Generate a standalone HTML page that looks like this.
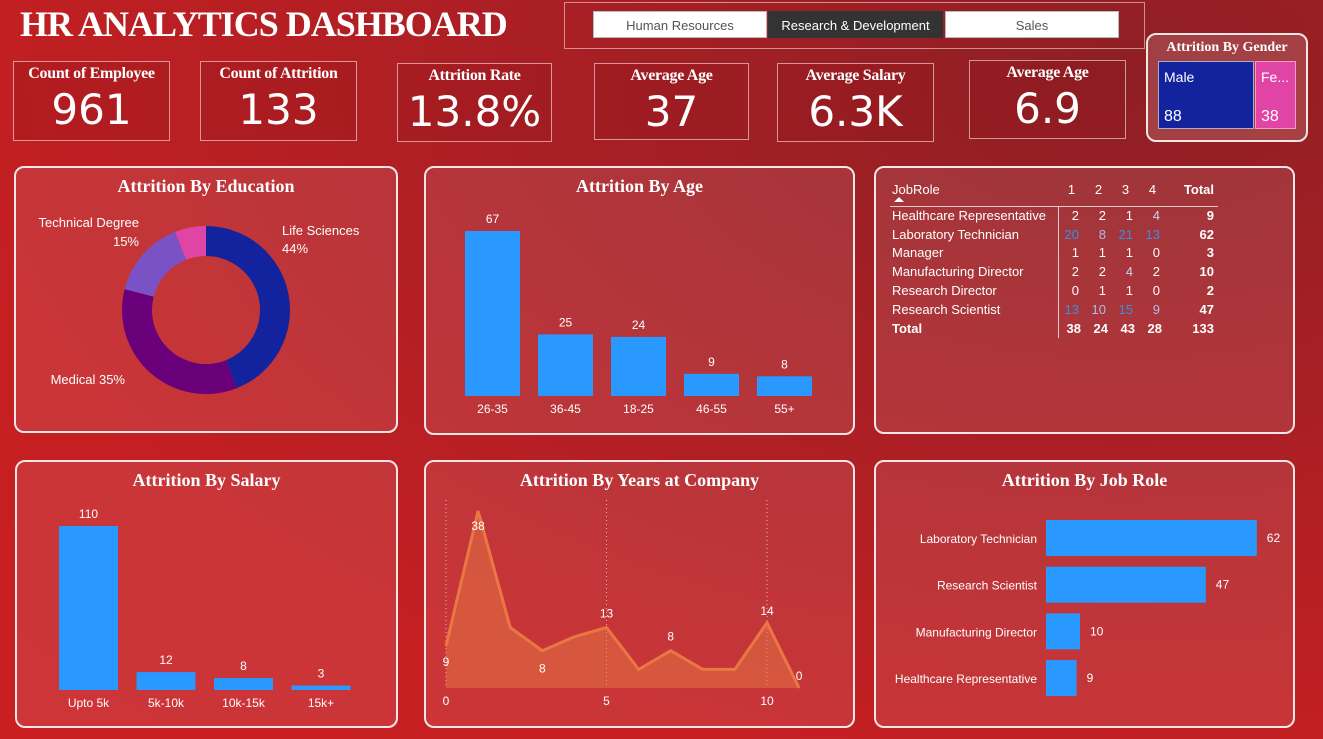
<!DOCTYPE html>
<html><head><meta charset="utf-8">
<style>
*{box-sizing:border-box;margin:0;padding:0}
body{width:1323px;height:739px;overflow:hidden;position:relative;font-family:"Liberation Sans",sans-serif;color:#fff;
background:radial-gradient(ellipse at 85% 10%,#8e1f24 0%,#a81f24 35%,#c51f22 75%,#c91f22 100%);}
.abs{position:absolute}
.kpi{position:absolute;border:1px solid rgba(255,255,255,0.55);text-align:center;background:rgba(140,20,25,0.25)}
.kpi .t{font-family:"Liberation Serif",serif;font-weight:bold;font-size:16px;margin-top:3px;letter-spacing:-0.3px}
.kpi .v{font-family:"DejaVu Sans","Liberation Sans",sans-serif;font-size:42px;line-height:48px;margin-top:3px}
.panel{position:absolute;border:2px solid #f4e6e6;border-radius:10px;background:rgba(255,255,255,0.1)}
.ptitle{position:absolute;left:0;right:0;top:8px;text-align:center;font-family:"Liberation Serif",serif;font-weight:bold;font-size:18px}
.btn{position:absolute;top:11px;height:27px;font-size:13px;text-align:center;line-height:27px;background:#fff;color:#555;border:1px solid #bbb}
svg text{font-family:"Liberation Sans",sans-serif}
table{border-collapse:collapse;font-size:13px}
</style></head><body>
<div class="abs" style="left:20px;top:3px;font-family:'Liberation Serif',serif;font-weight:bold;font-size:36px;letter-spacing:-1px">HR ANALYTICS DASHBOARD</div>

<div class="abs" style="left:564px;top:2px;width:581px;height:47px;border:1px solid rgba(255,255,255,0.5)"></div>
<div class="btn" style="left:593px;width:174px">Human Resources</div>
<div class="btn" style="left:768px;width:175px;background:#333;color:#fff;border-color:#333">Research &amp; Development</div>
<div class="btn" style="left:945px;width:174px">Sales</div>

<div class="kpi" style="left:13px;top:61px;width:157px;height:80px"><div class="t">Count of Employee</div><div class="v">961</div></div>
<div class="kpi" style="left:200px;top:61px;width:157px;height:80px"><div class="t">Count of Attrition</div><div class="v">133</div></div>
<div class="kpi" style="left:397px;top:63px;width:155px;height:79px"><div class="t">Attrition Rate</div><div class="v">13.8%</div></div>
<div class="kpi" style="left:594px;top:63px;width:155px;height:77px"><div class="t">Average Age</div><div class="v">37</div></div>
<div class="kpi" style="left:777px;top:63px;width:157px;height:79px"><div class="t">Average Salary</div><div class="v">6.3K</div></div>
<div class="kpi" style="left:969px;top:60px;width:157px;height:79px"><div class="t">Average Age</div><div class="v">6.9</div></div>

<div class="panel" style="left:1146px;top:33px;width:162px;height:109px;background:rgba(255,255,255,0.15)">
 <div style="position:absolute;left:0;right:0;top:5px;text-align:center;font-family:'Liberation Serif',serif;font-weight:bold;font-size:14px">Attrition By Gender</div>
 <div style="position:absolute;left:10px;top:26px;width:96px;height:68px;background:#13239e;border:1px solid #aac">
  <div style="position:absolute;left:5px;top:7px;font-size:14px">Male</div><div style="position:absolute;left:5px;bottom:2px;font-size:16px">88</div></div>
 <div style="position:absolute;left:107px;top:26px;width:41px;height:68px;background:#e045a6;border:1px solid #f9c">
  <div style="position:absolute;left:5px;top:7px;font-size:14px">Fe...</div><div style="position:absolute;left:5px;bottom:2px;font-size:16px">38</div></div>
</div>

<div class="panel" style="left:14px;top:166px;width:384px;height:267px"><div class="ptitle">Attrition By Education</div></div>
<svg class="abs" style="left:0;top:0" width="1323" height="739">
 <g id="donut"></g><g id="age"></g><g id="salary"></g><g id="years"></g><g id="jobrole"></g>
</svg>

<div class="panel" style="left:424px;top:166px;width:431px;height:269px"><div class="ptitle">Attrition By Age</div></div>
<div class="panel" style="left:874px;top:166px;width:421px;height:268px">
 <table style="position:absolute;left:14px;top:10px" id="tbl"></table>
</div>
<div class="panel" style="left:15px;top:460px;width:383px;height:268px"><div class="ptitle">Attrition By Salary</div></div>
<div class="panel" style="left:424px;top:460px;width:431px;height:268px"><div class="ptitle">Attrition By Years at Company</div></div>
<div class="panel" style="left:874px;top:460px;width:421px;height:268px"><div class="ptitle">Attrition By Job Role</div></div>

<script>
const eduCats=["Life Sciences","Medical","Technical Degree","Other"];
const eduVals=[44,35,15,6];
const ageCats=["26-35","36-45","18-25","46-55","55+"];
const ageVals=[67,25,24,9,8];
const salCats=["Upto 5k","5k-10k","10k-15k","15k+"];
const salVals=[110,12,8,3];
const yearVals=[9,38,13,8,11,13,4,8,4,4,14,0];
const yearTicks=[0,5,10];
const roleCats=["Laboratory Technician","Research Scientist","Manufacturing Director","Healthcare Representative"];
const roleVals=[62,47,10,9];
const tblRoles=["Healthcare Representative","Laboratory Technician","Manager","Manufacturing Director","Research Director","Research Scientist"];
const tblVals=[[2,2,1,4],[20,8,21,13],[1,1,1,0],[2,2,4,2],[0,1,1,0],[13,10,15,9]];

const NS="http://www.w3.org/2000/svg";
function mk(p,tag,at,txt){const e=document.createElementNS(NS,tag);for(const k in at)e.setAttribute(k,at[k]);if(txt!==undefined)e.textContent=txt;p.appendChild(e);return e;}

(function(){
 const g=document.getElementById('donut');const cx=206,cy=310,R=84,r=54;
 const cols=["#13239e","#6a0079","#7a52c6","#e045a6"];
 const tot=eduVals.reduce((a,b)=>a+b,0);let a0=0;
 eduVals.forEach((v,i)=>{const a1=a0+v/tot*2*Math.PI;
  const p=(a,rr)=>[cx+rr*Math.sin(a),cy-rr*Math.cos(a)];
  const [x1,y1]=p(a0,R),[x2,y2]=p(a1,R),[x3,y3]=p(a1,r),[x4,y4]=p(a0,r);const lg=(a1-a0)>Math.PI?1:0;
  const s=mk(g,'path',{d:`M${x1},${y1}A${R},${R} 0 ${lg} 1 ${x2},${y2}L${x3},${y3}A${r},${r} 0 ${lg} 0 ${x4},${y4}Z`,fill:cols[i]});
  
  
  a0=a1;});
 const lab=[[282,235,"start",eduCats[0]],[282,253,"start",eduVals[0]+"%"],[139,227,"end",eduCats[2]],[139,246,"end",eduVals[2]+"%"],[125,384,"end",eduCats[1]+" "+eduVals[1]+"%"]];
 lab.forEach(l=>{const t=mk(g,'text',{x:l[0],y:l[1],'text-anchor':l[2],'font-size':13,fill:'#fff'},l[3]);
  
  });
})();

function vbars(id,cats,vals,x0,step,w,base,scale){
 const g=document.getElementById(id);
 vals.forEach((v,i)=>{const x=x0+i*step,h=v*scale;
  const b=mk(g,'rect',{x:x,y:base-h,width:w,height:h,fill:'#118dff'});
  
  
  const t=mk(g,'text',{x:x+w/2,y:base-h-8,'text-anchor':'middle','font-size':12,fill:'#fff'},v);
  
  
  const c=mk(g,'text',{x:x+w/2,y:base+17,'text-anchor':'middle','font-size':12,fill:'#fff'},cats[i]);
  
  });
}
vbars('age',ageCats,ageVals,465,73,55,396,165/67);
vbars('salary',salCats,salVals,59,77.5,59,690,164/110);

(function(){
 const g=document.getElementById('years');const X=i=>446+i*32.1,Y=v=>688-v*4.66;
 yearTicks.forEach(t=>{const l=mk(g,'line',{x1:X(t),x2:X(t),y1:500,y2:688,stroke:'#e8b0b0','stroke-dasharray':'1 3'});
  
  
  const tx=mk(g,'text',{x:X(t),y:705,'text-anchor':'middle','font-size':12,fill:'#fff'},t);
  
  });
 let d=yearVals.map((v,i)=>(i?'L':'M')+X(i)+','+Y(v)).join('');
 const a=mk(g,'path',{d:d+`L${X(yearVals.length-1)},688L${X(0)},688Z`,fill:'#e06030','fill-opacity':0.55});
 
 
 const ln=mk(g,'path',{d:d,fill:'none',stroke:'#e8682e','stroke-width':3});
 
 
 const lbl=[[0,20],[1,19],[3,22],[5,-10],[7,-10],[10,-8],[11,-8]];
 lbl.forEach(([i,dy])=>{const v=yearVals[i];const t=mk(g,'text',{x:X(i),y:Y(v)+dy,'text-anchor':'middle','font-size':12,fill:'#fff'},v);
  
  });
})();

(function(){
 const g=document.getElementById('jobrole');
 roleVals.forEach((v,i)=>{const y=520+i*46.7,w=v*3.4;
  const b=mk(g,'rect',{x:1046,y:y,width:w,height:36,fill:'#118dff'});
  
  
  const t=mk(g,'text',{x:1046+w+10,y:y+22,'font-size':12,fill:'#fff'},v);
  
  
  const c=mk(g,'text',{x:1037,y:y+23,'text-anchor':'end','font-size':12,fill:'#fff','font-family':'Liberation Serif, serif'},roleCats[i]);
  
  });
})();

(function(){
 const t=document.getElementById('tbl');
 const col=v=>v>=13?'#3d8fe0':(v>=8?'#a9bde6':(v>=4?'#c9d3ee':'#fff'));
 let h='<tr style="height:28px;border-bottom:1px solid #e8caca"><td style="width:168px;padding-left:2px">JobRole<div style="width:0;height:0;border-left:5px solid transparent;border-right:5px solid transparent;border-bottom:5px solid #fff;margin-left:2px"></div></td>';
 ['1','2','3','4'].forEach(c=>h+='<td style="width:27px;text-align:center;vertical-align:top;padding-top:4px">'+c+'</td>');
 h+='<td style="width:52px;text-align:right;font-weight:bold;vertical-align:top;padding-top:4px;padding-right:4px">Total</td></tr>';
 const tot=[0,0,0,0];let g=0;
 tblRoles.forEach((r,i)=>{let s=0;h+='<tr style="height:18.8px"><td style="border-right:1px solid #e8caca;padding-left:2px">'+r+'</td>';
  tblVals[i].forEach((v,j)=>{s+=v;tot[j]+=v;h+='<td style="text-align:right;padding-right:6px;color:'+col(v)+'">'+v+'</td>';});
  g+=s;h+='<td style="text-align:right;font-weight:bold;padding-right:4px">'+s+'</td></tr>';});
 h+='<tr style="height:18.8px;font-weight:bold"><td style="border-right:1px solid #e8caca;padding-left:2px">Total</td>';
 tot.forEach(v=>h+='<td style="text-align:right;padding-right:4px">'+v+'</td>');
 h+='<td style="text-align:right;padding-right:4px">'+g+'</td></tr>';
 t.innerHTML=h;
})();
</script>
</body></html>
